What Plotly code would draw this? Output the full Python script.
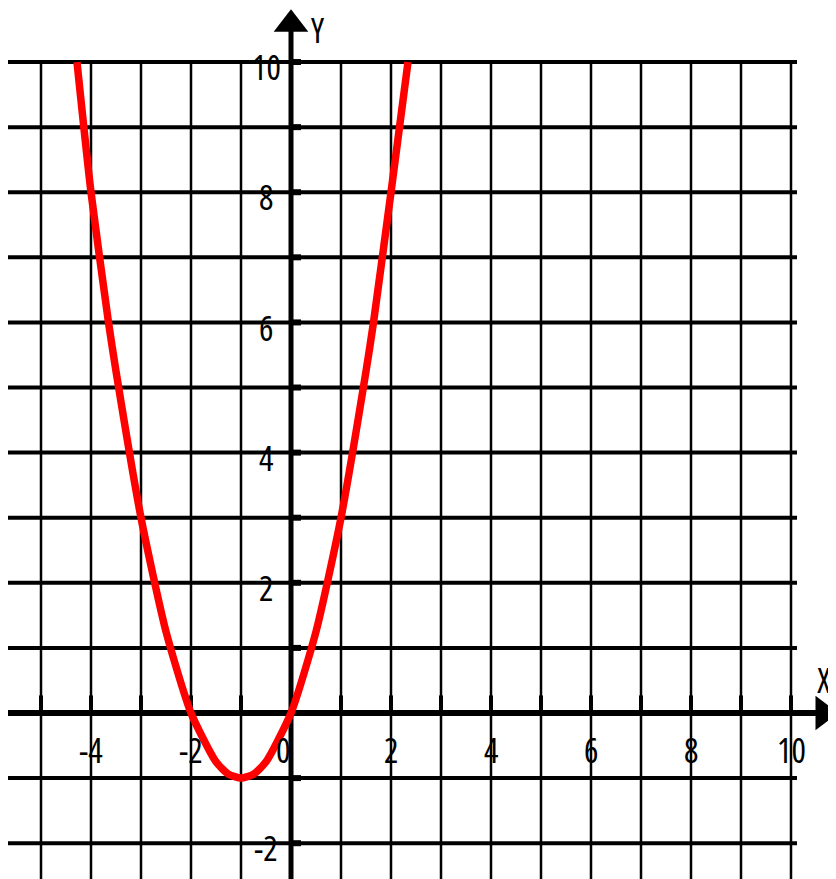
import plotly.graph_objects as go

# ---- data ----
curve_x = [-4.28, -4.0, -3.65, -3.5, -3.0, -2.5, -2.0, -1.5, -1.25, -1.0, -0.75, -0.5, 0.0, 0.5, 1.0, 1.5, 1.65, 2.0, 2.34]
curve_y = [10.0, 8.0, 6.0, 5.25, 3.0, 1.25, 0.0, -0.75, -0.94, -1.0, -0.94, -0.75, 0.0, 1.25, 3.0, 5.25, 6.0, 8.0, 10.0]

x_grid = list(range(-5, 11))
y_grid = list(range(-2, 11))
x_tick_labels = [-4, -2, 0, 2, 4, 6, 8, 10]
y_tick_labels = [-2, 2, 4, 6, 8, 10]

# page body has an 8px margin, figure sized to fill the rest of the window
X_MIN, X_MAX = -5.66, 10.9
Y_MIN, Y_MAX = -2.55, 10.83
GRID_LEFT, GRID_RIGHT = -5.66, 10.12

fig = go.Figure()
shapes = []
for yv in y_grid:
    shapes.append(dict(type="line", x0=GRID_LEFT, x1=GRID_RIGHT, y0=yv, y1=yv,
                       line=dict(color="black", width=4), layer="below"))
for xv in x_grid:
    shapes.append(dict(type="line", x0=xv, x1=xv, y0=10, y1=Y_MIN - 0.2,
                       line=dict(color="black", width=2.5), layer="below"))
shapes.append(dict(type="line", x0=GRID_LEFT, x1=10.5, y0=0, y1=0,
                   line=dict(color="black", width=6), layer="below"))
shapes.append(dict(type="line", x0=0, x1=0, y0=Y_MIN - 0.2, y1=10.5,
                   line=dict(color="black", width=5), layer="below"))
for xv in x_grid:
    shapes.append(dict(type="line", x0=xv, x1=xv, y0=-0.03, y1=0.27,
                       line=dict(color="black", width=4), layer="below"))
for yv in y_grid:
    if yv == 0:
        continue
    shapes.append(dict(type="line", x0=0, x1=0.2, y0=yv, y1=yv,
                       line=dict(color="black", width=6), layer="below"))
fig.update_layout(shapes=shapes)

fig.add_trace(go.Scatter(x=curve_x, y=curve_y, mode="lines",
                         line=dict(color="#ff0000", width=7.5, shape="spline", smoothing=0.6),
                         hoverinfo="skip", showlegend=False))

fig.add_trace(go.Scatter(x=[10.64], y=[0], mode="markers",
                         marker=dict(symbol="triangle-right", size=30, color="black"),
                         hoverinfo="skip", showlegend=False))
fig.add_trace(go.Scatter(x=[0], y=[10.58], mode="markers",
                         marker=dict(symbol="triangle-up", size=30, color="black"),
                         hoverinfo="skip", showlegend=False))

FONT = "Open Sans"
SIZE = 34


def narrow(s):
    return "<span style='font-stretch:condensed'>" + s + "</span>"


annotations = []
for xv in x_tick_labels:
    annotations.append(dict(x=xv - (0.16 if xv == 0 else 0), y=-0.57, text=narrow(str(xv)), showarrow=False,
                            font=dict(family=FONT, size=SIZE, color="black")))
for yv in y_tick_labels:
    annotations.append(dict(x=-0.5, y=yv - 0.08, text=narrow(str(yv)), showarrow=False,
                            font=dict(family=FONT, size=SIZE, color="black")))
annotations.append(dict(x=10.66, y=0.51, text=narrow("X"), showarrow=False,
                        font=dict(family=FONT, size=SIZE, color="black")))
annotations.append(dict(x=0.54, y=10.49, text=narrow("Y"), showarrow=False,
                        font=dict(family=FONT, size=SIZE, color="black")))
fig.update_layout(annotations=annotations)

fig.update_layout(
    width=828, height=871,
    margin=dict(l=0, r=0, t=0, b=0),
    paper_bgcolor="white", plot_bgcolor="white",
    xaxis=dict(range=[X_MIN, X_MAX], visible=False, fixedrange=True),
    yaxis=dict(range=[Y_MIN, Y_MAX], visible=False, fixedrange=True),
    showlegend=False,
)

fig.write_html("out.html")
